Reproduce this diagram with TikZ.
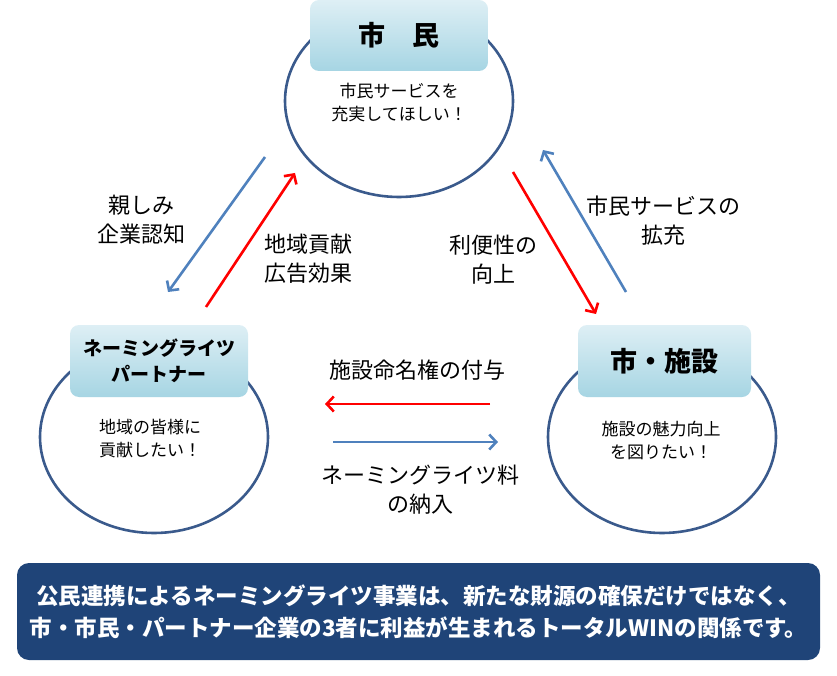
\documentclass[tikz,border=0pt]{standalone}
\usepackage{fontspec}
\setmainfont{Noto Sans CJK JP}
\usetikzlibrary{shapes.geometric,arrows.meta}
\definecolor{ringblue}{RGB}{58,90,140}
\definecolor{arrblue}{RGB}{79,129,189}
\definecolor{arrred}{RGB}{255,0,0}
\definecolor{boxtop}{RGB}{222,239,245}
\definecolor{boxbot}{RGB}{166,213,227}
\definecolor{banner}{RGB}{31,68,120}
\tikzset{
  ring/.style={draw=ringblue,line width=2.6pt,ellipse,minimum width=228pt,minimum height=192pt,fill=white},
  titlebox/.style={rounded corners=9pt,top color=boxtop,bottom color=boxbot,draw=none,align=center,inner sep=0pt},
  inner/.style={font=\fontsize{17}{23}\selectfont,align=left},
  lbl/.style={font=\fontsize{22}{29}\selectfont,align=center},
  bluearr/.style={draw=arrblue,line width=2.6pt,-{Straight Barb[length=7pt,width=15pt,line width=2.6pt]}},
  redarr/.style={draw=arrred,line width=2.6pt,-{Straight Barb[length=7pt,width=15pt,line width=2.6pt]}},
}
\begin{document}
\begin{tikzpicture}[x=1pt,y=-1pt]
\useasboundingbox (0,0) rectangle (837,676);
% ellipses
\node[ring] (eT) at (399,101) {};
\node[ring] (eL) at (154,437) {};
\node[ring] (eR) at (662,437) {};
% title boxes
\node[titlebox,minimum width=178pt,minimum height=71pt,font=\fontsize{27}{30}\selectfont\bfseries] (bT) at (399,35.5)
  {市　民};
\node[titlebox,minimum width=178pt,minimum height=72pt,font=\fontsize{19}{26}\selectfont\bfseries] (bL) at (159,361)
  {ネーミングライツ\\パートナー};
\node[titlebox,minimum width=173pt,minimum height=72pt,font=\fontsize{27}{30}\selectfont\bfseries] (bR) at (664.5,361)
  {市・施設};
% inner texts
\node[inner,align=center] (tT) at (399,103) {市民サービスを\\充実してほしい！};
\node[inner] (tL) at (150,439) {地域の皆様に\\貢献したい！};
\node[inner,align=center] (tR) at (661,440) {施設の魅力向上\\を図りたい！};
% arrow endpoints
\coordinate (a1s) at (265,157); \coordinate (a1e) at (168,292);
\coordinate (a2s) at (206,307); \coordinate (a2e) at (295,173);
\coordinate (a3s) at (513,172); \coordinate (a3e) at (596,314);
\coordinate (a4s) at (626,292); \coordinate (a4e) at (543,150);
\coordinate (a5s) at (490,404); \coordinate (a5e) at (325,404);
\coordinate (a6s) at (333,442); \coordinate (a6e) at (498,442);
\draw[bluearr] (a1s) -- (a1e);
\draw[redarr] (a2s) -- (a2e);
\draw[redarr] (a3s) -- (a3e);
\draw[bluearr] (a4s) -- (a4e);
\draw[redarr] (a5s) -- (a5e);
\draw[bluearr] (a6s) -- (a6e);
% labels
\node[lbl] (l1) at (141,220) {親しみ\\企業認知};
\node[lbl] (l2) at (308,259) {地域貢献\\広告効果};
\node[lbl] (l3) at (493,260) {利便性の\\向上};
\node[lbl] (l4) at (663,221) {市民サービスの\\拡充};
\node[lbl] (l5) at (417,370) {施設命名権の付与};
\node[lbl] (l6) at (420,490) {ネーミングライツ料\\の納入};
% banner
\node[fill=banner,rounded corners=12pt,minimum width=803pt,minimum height=97pt,inner sep=0pt,
  text=white,align=center,font=\fontsize{22.5}{32}\selectfont\bfseries] (ban) at (418.5,611.5)
  {公民連携によるネーミングライツ事業は、新たな財源の確保だけではなく、\\
   市・市民・パートナー企業の3者に利益が生まれるトータルWINの関係です。};
\end{tikzpicture}
\end{document}
